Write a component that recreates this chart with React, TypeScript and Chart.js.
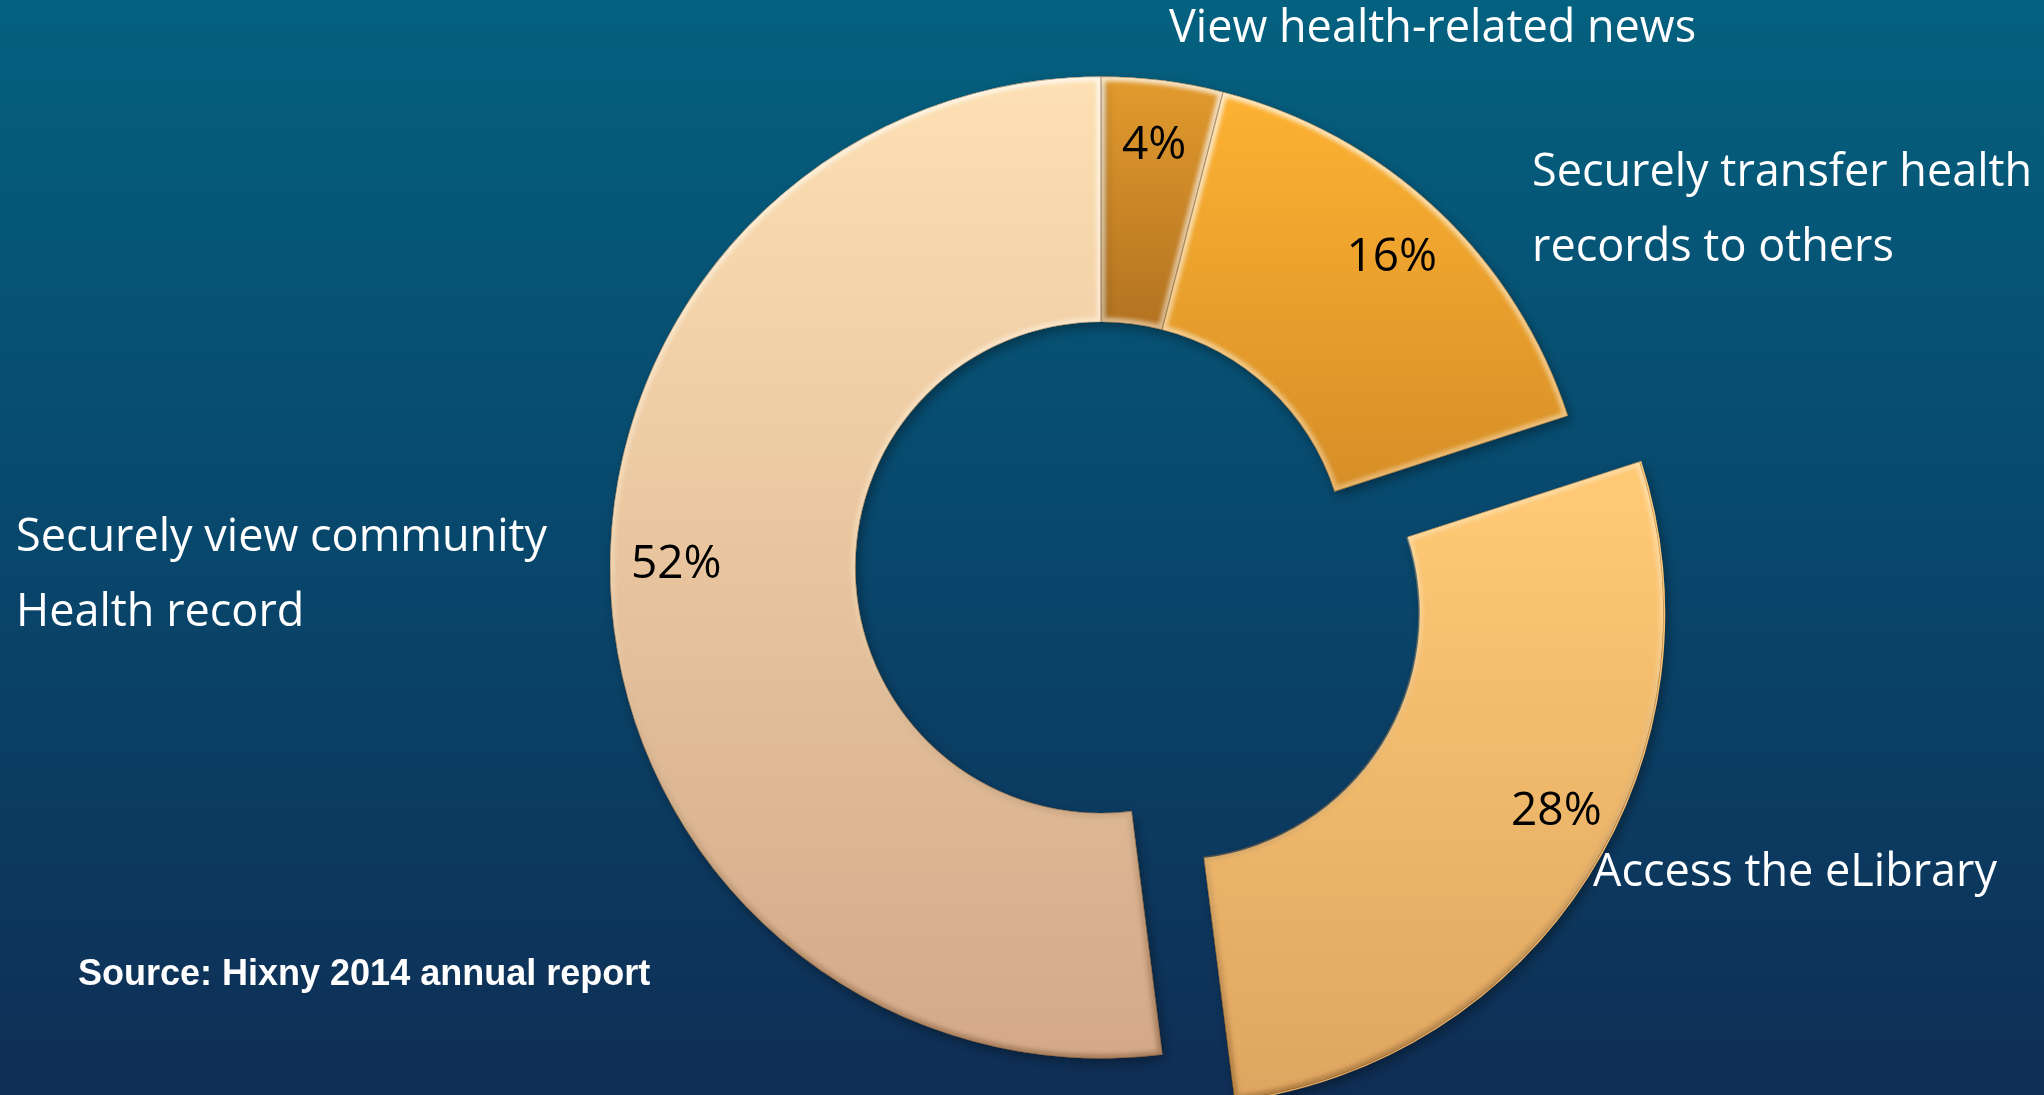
import React, { useEffect, useRef } from "react";
import { Chart, registerables } from "chart.js";

Chart.register(...registerables);

// ---- data ----
const categories = [
  "View health-related news",
  "Securely transfer health records to others",
  "Access the eLibrary",
  "Securely view community Health record",
];
const values = [4, 16, 28, 52];
const percentLabels = ["4%", "16%", "28%", "52%"];
const explodedSlices = [0, 0, 1, 0];
const categoryLines = [
  ["View health-related news"],
  ["Securely transfer health", "records to others"],
  ["Access the eLibrary"],
  ["Securely view community", "Health record"],
];
const sourceText = "Source: Hixny 2014 annual report";

// ---- style ----
const W = 2044;
const H = 1095;
const OUTER_RADIUS = 491;
const EXPLODE_PX = 85;
const OFFSET_DIV = 4; // Chart.js arc translates by offset / 4
const topColors = ["#E39B2E", "#FDB232", "#FEC874", "#FDE0B3"];
const bottomColors = ["#B27220", "#D68E27", "#DCA35F", "#D3A98A"];
const LABEL_FONT = '45px "Open Sans", "Noto Sans", sans-serif';
const PCT_FONT = '46px "Open Sans", "Noto Sans", sans-serif';
const SOURCE_FONT = 'bold 36px "Liberation Sans", Arial, sans-serif';
// percentage label placement: angular nudge (degrees) and radial fraction of outer radius
const pctAngleNudge = [0, 0, -5, 4];
const pctRadiusFrac = [0.865, 0.865, 0.88, 0.865];
// category label anchors (left x, first-line middle y), line height
const labelAnchors = [
  [1169, 29],
  [1532, 173],
  [1593, 873],
  [16, 538],
];
const LINE_H = 75;
const sourceAnchor = [78, 975];

function arcGeom(arc: any) {
  const p = arc.getProps(["x", "y", "startAngle", "endAngle", "innerRadius", "outerRadius"], true);
  const off = (arc.options.offset || 0) / OFFSET_DIV;
  const mid = (p.startAngle + p.endAngle) / 2;
  return {
    cx: p.x + Math.cos(mid) * off,
    cy: p.y + Math.sin(mid) * off,
    a0: p.startAngle,
    a1: p.endAngle,
    rIn: p.innerRadius,
    rOut: p.outerRadius,
    mid,
  };
}

function ringPath(ctx: CanvasRenderingContext2D, g: any) {
  ctx.beginPath();
  ctx.arc(g.cx, g.cy, g.rOut, g.a0, g.a1);
  ctx.arc(g.cx, g.cy, g.rIn, g.a1, g.a0, true);
  ctx.closePath();
}

const backgroundPlugin = {
  id: "bg",
  beforeDraw(chart: any) {
    const ctx = chart.ctx;
    const g = ctx.createLinearGradient(0, 0, 0, chart.height);
    g.addColorStop(0, "#04617F");
    g.addColorStop(0.5, "#08476C");
    g.addColorStop(1, "#0F2E55");
    ctx.save();
    ctx.fillStyle = g;
    ctx.fillRect(0, 0, chart.width, chart.height);
    ctx.restore();
  },
};

const sliceStylePlugin = {
  id: "sliceStyle",
  beforeDatasetsDraw(chart: any) {
    const ctx = chart.ctx;
    const arcs = chart.getDatasetMeta(0).data;
    arcs.forEach((arc: any, i: number) => {
      const g = arcGeom(arc);
      let minY = Infinity;
      let maxY = -Infinity;
      for (let k = 0; k <= 80; k++) {
        const a = g.a0 + ((g.a1 - g.a0) * k) / 80;
        for (const r of [g.rIn, g.rOut]) {
          const y = g.cy + Math.sin(a) * r;
          minY = Math.min(minY, y);
          maxY = Math.max(maxY, y);
        }
      }
      const grad = ctx.createLinearGradient(0, minY, 0, maxY);
      grad.addColorStop(0, topColors[i]);
      grad.addColorStop(1, bottomColors[i]);
      if (Object.isFrozen(arc.options)) {
        arc.options = Object.assign({}, arc.options, { backgroundColor: grad });
      } else {
        arc.options.backgroundColor = grad;
      }
    });
    ctx.save();
    ctx.shadowColor = "rgba(0,0,0,0.35)";
    ctx.shadowBlur = 12;
    ctx.shadowOffsetX = 3;
    ctx.shadowOffsetY = 5;
  },
  afterDatasetsDraw(chart: any) {
    const ctx = chart.ctx;
    ctx.restore();
    const arcs = chart.getDatasetMeta(0).data;
    arcs.forEach((arc: any) => {
      const g = arcGeom(arc);
      ctx.save();
      ringPath(ctx, g);
      ctx.clip();
      const hl = ctx.createLinearGradient(0, g.cy - g.rOut, 0, g.cy + g.rOut);
      hl.addColorStop(0, "rgba(255,255,255,0.75)");
      hl.addColorStop(0.5, "rgba(255,240,210,0.35)");
      hl.addColorStop(1, "rgba(90,50,10,0.35)");
      ctx.filter = "blur(2px)";
      ctx.lineWidth = 9;
      ctx.strokeStyle = hl;
      ringPath(ctx, g);
      ctx.stroke();
      ctx.filter = "none";
      ctx.lineWidth = 1.2;
      ctx.strokeStyle = "rgba(110,65,20,0.55)";
      ringPath(ctx, g);
      ctx.stroke();
      ctx.restore();
    });
  },
};

const textPlugin = {
  id: "texts",
  afterDraw(chart: any) {
    const ctx = chart.ctx;
    const arcs = chart.getDatasetMeta(0).data;
    ctx.save();
    ctx.textBaseline = "middle";
    // percentage labels inside slices
    ctx.fillStyle = "#000000";
    ctx.font = PCT_FONT;
    ctx.textAlign = "center";
    arcs.forEach((arc: any, i: number) => {
      const g = arcGeom(arc);
      const r = g.rOut * pctRadiusFrac[i];
      const a = g.mid + (pctAngleNudge[i] * Math.PI) / 180;
      ctx.fillText(percentLabels[i], g.cx + Math.cos(a) * r, g.cy + Math.sin(a) * r);
    });
    // category labels
    ctx.fillStyle = "#FFFFFF";
    ctx.font = LABEL_FONT;
    ctx.textAlign = "left";
    categoryLines.forEach((lines, i) => {
      const [x, y] = labelAnchors[i];
      lines.forEach((line, j) => ctx.fillText(line, x, y + j * LINE_H));
    });
    // source
    ctx.font = SOURCE_FONT;
    ctx.fillText(sourceText, sourceAnchor[0], sourceAnchor[1]);
    ctx.restore();
  },
};

export default function App() {
  const canvasRef = useRef<HTMLCanvasElement | null>(null);

  useEffect(() => {
    document.body.style.margin = "0";
    const canvas = canvasRef.current;
    if (!canvas) return;
    const chart = new Chart(canvas, {
      type: "doughnut",
      data: {
        labels: categories,
        datasets: [
          {
            data: values,
            backgroundColor: topColors,
            borderWidth: 0,
            offset: explodedSlices.map((e) => e * EXPLODE_PX * OFFSET_DIV),
          },
        ],
      },
      options: {
        responsive: false,
        animation: false,
        devicePixelRatio: 1,
        cutout: "50%",
        radius: OUTER_RADIUS,
        layout: { padding: { left: 158, top: 40, right: 0, bottom: 0 } },
        plugins: {
          legend: { display: false },
          tooltip: { enabled: false },
        },
        events: [],
      },
      plugins: [backgroundPlugin, sliceStylePlugin, textPlugin],
    });
    return () => chart.destroy();
  }, []);

  return (
    <div style={{ position: "fixed", left: 0, top: 0, width: W, height: H }}>
      <canvas ref={canvasRef} width={W} height={H} style={{ display: "block", width: W, height: H }} />
    </div>
  );
}
